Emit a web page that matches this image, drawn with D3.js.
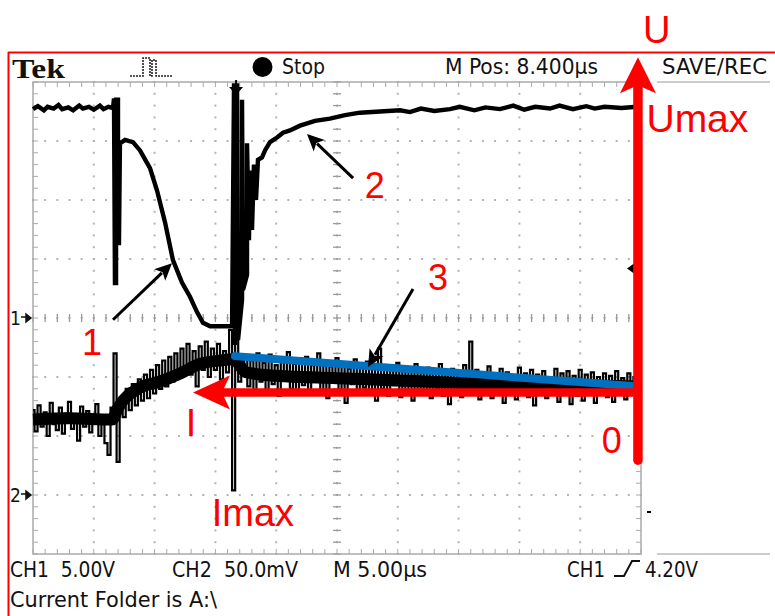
<!DOCTYPE html>
<html>
<head>
<meta charset="utf-8">
<script src="https://cdn.jsdelivr.net/npm/d3@7"></script>
<style>
  body { margin: 0; background: #fff; }
  svg { display: block; }
</style>
</head>
<body>
<svg id="scope" width="775" height="616"></svg>
<script>
// CH1 trace: time (µs from left edge of screen) and volts
const ch1Time = [0, 0.4, 0.9, 1.2, 1.7, 2.1, 2.4, 2.9, 3.3, 3.8, 4.1, 4.6, 5.0, 5.5, 5.8, 6.2, 6.58, 6.66, 6.74, 6.83, 6.83, 6.99, 6.99, 7.07,
  7.15, 7.57, 8.22, 8.80, 9.62, 10.2, 10.86, 11.51, 12.25, 12.91, 13.49, 13.98, 14.56, 16.2,
  16.37, 16.53, 16.61, 16.78, 16.86, 17.19, 17.19, 17.27, 17.6, 17.6, 17.76, 17.85, 18.01, 18.17, 18.34, 18.5,
  18.83, 19.08, 19.49, 20.07, 20.56, 21.13, 21.96, 23.19, 24.42, 25.66, 26.89, 28.54, 30.18, 31.0, 31.9, 33.0,
  34.29, 35.1, 36.3, 37.2, 38.4, 39.5, 40.4, 41.3, 42.52, 43.3, 44.4, 45.5, 46.2, 47.0, 48.4, 49.67];
const ch1Volts = [17.7, 17.95, 17.6, 17.9, 17.75, 18.05, 17.7, 17.85, 17.6, 18.0, 17.75, 17.9, 17.65, 18.0, 17.7, 17.9, 17.8, 18.6, 2.97, 2.97, 18.5, 18.5, 6.36, 6.36,
  14.8, 15.1, 14.9, 14.2, 12.7, 10.8, 8.1, 4.9, 3.0, 1.8, 0.5, -0.4, -0.7, -0.7,
  -0.68, 19.9, -2.29, 19.9, -1.86, 1.53, 18.5, 2.37, 3.64, 14.8, 6.6, 12.5, 7.46, 13.0, 10.0, 13.4,
  13.6, 14.2, 14.9, 15.3, 15.7, 15.9, 16.3, 16.7, 16.9, 17.2, 17.4, 17.5, 17.6, 17.45, 17.75, 17.55,
  17.7, 17.9, 17.6, 17.85, 17.7, 18.0, 17.65, 17.9, 17.75, 18.0, 17.7, 17.95, 17.75, 17.9, 17.8, 17.9];

// CH2 trace: samples every 0.25 µs, millivolts
const ch2Step = 0.25;
const ch2mV = [
  72, 54, 76, 58, 70, 50, 78, 60, 55, 74, 52, 69, 79, 56, 66, 46, 75, 58, 71, 53, 68, 77, 50, 62, 44, 34, 74,
  120, 28, 82, 66, 90, 72, 94, 76, 98, 80, 102, 82, 106, 86, 110, 90, 114, 92, 117, 96, 120, 100,
  124, 104, 128, 102, 122, 92, 126, 106, 130, 100, 124, 106, 128, 98, 122, 104,
  140, 4, 132, 96,
  104, 118, 92, 114, 88, 120, 96, 112, 86, 119, 94, 110, 84, 116, 97, 121, 90, 111, 87, 116,
  93, 117, 85, 110, 96, 120, 89, 113, 82, 109, 95, 116, 88, 111, 78, 107, 94, 115, 87, 109,
  91, 113, 85, 108, 80, 124, 90, 110, 84, 106, 93, 112, 83, 109, 89, 105, 80, 111, 88, 104,
  86, 108, 82, 105, 90, 111, 84, 103, 77, 107, 89, 104, 83, 110, 88, 130, 85, 106, 81, 103,
  87, 109, 82, 102, 86, 107, 78, 104, 85, 101, 81, 108, 89, 103, 83, 106, 76, 102, 86, 105,
  82, 100, 85, 107, 79, 103, 87, 105, 77, 101, 84, 106, 80, 102, 86, 104, 78, 100, 85, 103,
  83, 101, 79, 105, 86, 99, 81, 103, 85, 100, 88
];
// CH2 band centre (the solid part of the noisy trace)
const ch2TrendTime = [0, 3, 6.5, 7.0, 8.8, 10.4, 12.1, 13.7, 15.4, 16.5, 17.5, 20, 25, 30, 35, 40, 45, 49.75];
const ch2TrendmV = [64, 65, 64, 74, 91, 96, 103, 111, 114, 115, 104, 101, 99, 97, 95, 94, 93, 92];

// scope settings
const timePerDiv = 5;      // µs
const ch1PerDiv = 5;       // V
const ch2PerDiv = 50;      // mV
const trigTime = 16.7;     // µs
const trigLevel = 4.2;     // V

// readouts
const headerLabels = ["Stop", "M Pos: 8.400\u00b5s", "SAVE/REC"];
const footerLabels = ["CH1  5.00V", "CH2  50.0mV", "M 5.00\u00b5s", "CH1", "4.20V", "Current Folder is A:\\"];

// annotations (time µs, divisions)
const blueLine = [[16.61, 117.7], [49.34, 92.3]];   // on CH2 scale (mV)
const uAxis = [[49.75, -2.41], [49.75, 4.42]];      // divisions
const iAxis = [[49.75, 86.8], [13.16, 86.8]];       // on CH2 scale (mV)
const pointers = [
  { from: [6.58, -0.03], to: [11.43, 0.93] },
  { from: [26.32, 2.37], to: [22.53, 3.12] },
  { from: [31.25, 0.49], to: [27.55, -0.83] }
];
const redLabels = [
  { text: "U", t: 51.3, d: 4.66, size: 38, anchor: "middle" },
  { text: "Umax", t: 50.45, d: 3.15, size: 39, anchor: "start" },
  { text: "0", t: 47.6, d: -2.29, size: 36, anchor: "middle" },
  { text: "I", t: 13.0, d: -2.0, size: 38, anchor: "middle" },
  { text: "Imax", t: 14.7, d: -3.53, size: 38, anchor: "start" },
  { text: "1", t: 4.85, d: -0.63, size: 36, anchor: "middle" },
  { text: "2", t: 28.1, d: 2.03, size: 36, anchor: "middle" },
  { text: "3", t: 33.3, d: 0.47, size: 36, anchor: "middle" }
];

const svg = d3.select("#scope");
const gLeft = 33, gRight = 641, gTop = 82, gBottom = 554;

const x = d3.scaleLinear().domain([0, 10 * timePerDiv]).range([gLeft, gRight]);
const yd = d3.scaleLinear().domain([-4, 4]).range([gBottom, gTop]);
const y1 = d3.scaleLinear().domain([-4 * ch1PerDiv, 4 * ch1PerDiv]).range([gBottom, gTop]);
const y2 = d3.scaleLinear().domain([-1 * ch2PerDiv, 7 * ch2PerDiv]).range([gBottom, gTop]);

const tekFont = "'Liberation Sans Narrow','DejaVu Sans Condensed','Arial Narrow',sans-serif";
const redFont = "'Liberation Sans',Arial,sans-serif";

// red frame from the screenshot
svg.append("line").attr("x1", 8).attr("x2", 775).attr("y1", 52.5).attr("y2", 52.5)
  .attr("stroke", "#f00").attr("stroke-width", 2);
svg.append("line").attr("x1", 8.5).attr("x2", 8.5).attr("y1", 52).attr("y2", 616)
  .attr("stroke", "#f00").attr("stroke-width", 2);

// graticule
const grid = svg.append("g");
const xMajor = d3.range(1, 10).map(i => i * timePerDiv);
const yMajor = d3.range(-3, 4);
const xMinor = d3.range(0, 50.01, timePerDiv / 5);
const yMinor = d3.range(-4, 4.01, 0.2);

xMajor.forEach(t => {
  yMinor.forEach(d => {
    grid.append("rect").attr("x", x(t) - 1).attr("y", yd(d) - 1)
      .attr("width", 2).attr("height", 2).attr("fill", "#b4b4b4");
  });
});
yMajor.forEach(d => {
  xMinor.forEach(t => {
    grid.append("rect").attr("x", x(t) - 1).attr("y", yd(d) - 1)
      .attr("width", 2).attr("height", 2).attr("fill", "#b4b4b4");
  });
});
// centre axis ticks
xMinor.forEach(t => {
  grid.append("line").attr("x1", x(t)).attr("x2", x(t)).attr("y1", yd(0) - 4).attr("y2", yd(0) + 4)
    .attr("stroke", "#999").attr("stroke-width", 1.3);
});
yMinor.forEach(d => {
  grid.append("line").attr("x1", x(25) - 4).attr("x2", x(25) + 4).attr("y1", yd(d)).attr("y2", yd(d))
    .attr("stroke", "#999").attr("stroke-width", 1.3);
});
// frame and edge ticks
grid.append("rect").attr("x", gLeft).attr("y", gTop).attr("width", gRight - gLeft).attr("height", gBottom - gTop)
  .attr("fill", "none").attr("stroke", "#aaa").attr("stroke-width", 1.5);
xMinor.forEach(t => {
  grid.append("line").attr("x1", x(t)).attr("x2", x(t)).attr("y1", gTop).attr("y2", gTop + 5).attr("stroke", "#aaa");
  grid.append("line").attr("x1", x(t)).attr("x2", x(t)).attr("y1", gBottom - 5).attr("y2", gBottom).attr("stroke", "#aaa");
});
yMinor.forEach(d => {
  grid.append("line").attr("x1", gLeft).attr("x2", gLeft + 5).attr("y1", yd(d)).attr("y2", yd(d)).attr("stroke", "#aaa");
  grid.append("line").attr("x1", gRight - 5).attr("x2", gRight).attr("y1", yd(d)).attr("y2", yd(d)).attr("stroke", "#aaa");
});
// side panel separators
svg.append("line").attr("x1", 657).attr("x2", 770).attr("y1", gTop).attr("y2", gTop).attr("stroke", "#bbb").attr("stroke-width", 1.5);
svg.append("line").attr("x1", 657).attr("x2", 770).attr("y1", gBottom).attr("y2", gBottom).attr("stroke", "#bbb").attr("stroke-width", 1.5);

// traces: CH2 drawn as a solid band plus the raw stepped samples for the spikes
const ch2Core = d3.line()
  .x(i => x(ch2TrendTime[i]))
  .y(i => y2(ch2TrendmV[i]))
  .curve(d3.curveMonotoneX);
svg.append("path").attr("d", ch2Core(d3.range(ch2TrendTime.length)))
  .attr("fill", "none").attr("stroke", "#000").attr("stroke-width", 12);
const ch2Line = d3.line()
  .x((v, i) => x(i * ch2Step))
  .y(v => y2(v))
  .curve(d3.curveStep);
svg.append("path").attr("d", ch2Line(ch2mV))
  .attr("fill", "none").attr("stroke", "#000").attr("stroke-width", 2.2);

const ch1Line = d3.line()
  .x(i => x(ch1Time[i]))
  .y(i => y1(ch1Volts[i]));
svg.append("path").attr("d", ch1Line(d3.range(ch1Time.length)))
  .attr("fill", "none").attr("stroke", "#000").attr("stroke-width", 4.4).attr("stroke-linejoin", "miter");

// trigger position marker
const tx = x(trigTime);
svg.append("line").attr("x1", tx).attr("x2", tx).attr("y1", gTop - 2).attr("y2", gTop + 15)
  .attr("stroke", "#000").attr("stroke-width", 2);
svg.append("path").attr("d", `M${tx - 7},${gTop + 5}L${tx + 7},${gTop + 5}L${tx},${gTop + 13}Z`).attr("fill", "#000");
// trigger level marker
const ty = y1(trigLevel);
svg.append("path").attr("d", `M${gRight - 14},${ty}L${gRight - 7},${ty - 5}L${gRight - 7},${ty + 5}Z`).attr("fill", "#000");
svg.append("rect").attr("x", 647).attr("y", 511).attr("width", 4).attr("height", 2).attr("fill", "#000");

// channel ground markers
[[1, y1(0)], [2, y2(0)]].forEach(([n, gy]) => {
  svg.append("text").attr("x", 10).attr("y", gy + 7).text(n)
    .attr("font-family", tekFont).attr("font-size", 19).attr("fill", "#111");
  svg.append("path").attr("d", `M21,${gy - 1}H26M26,${gy - 4}L31,${gy}L26,${gy + 4}Z`)
    .attr("stroke", "#111").attr("stroke-width", 1.5).attr("fill", "#111");
});

// header
svg.append("text").attr("x", 12).attr("y", 78).text("Tek")
  .attr("font-family", "'Liberation Serif','DejaVu Serif',serif").attr("font-weight", "bold")
  .attr("font-size", 27).attr("textLength", 53).attr("lengthAdjust", "spacingAndGlyphs").attr("fill", "#111");
svg.append("path")
  .attr("d", "M130,76H143V58H150V76H152V60H156V76H173")
  .attr("fill", "none").attr("stroke", "#222").attr("stroke-width", 1.6).attr("stroke-dasharray", "2,1");
svg.append("circle").attr("cx", 262.5).attr("cy", 67).attr("r", 10).attr("fill", "#000");

const header = [
  { text: headerLabels[0], x: 282, w: 43 },
  { text: headerLabels[1], x: 445, w: 153 },
  { text: headerLabels[2], x: 662, w: 105 }
];
header.forEach(h => {
  svg.append("text").attr("x", h.x).attr("y", 74).text(h.text)
    .attr("font-family", tekFont).attr("font-size", 21)
    .attr("textLength", h.w).attr("lengthAdjust", "spacingAndGlyphs").attr("fill", "#111");
});

// footer
const footer = [
  { text: footerLabels[0], x: 10, y: 577, w: 105 },
  { text: footerLabels[1], x: 172, y: 577, w: 126 },
  { text: footerLabels[2], x: 333, y: 577, w: 94 },
  { text: footerLabels[3], x: 567, y: 577, w: 38 },
  { text: footerLabels[4], x: 645, y: 577, w: 53 },
  { text: footerLabels[5], x: 10, y: 607, w: 207 }
];
footer.forEach(f => {
  svg.append("text").attr("x", f.x).attr("y", f.y).text(f.text)
    .style("white-space", "pre")
    .attr("font-family", tekFont).attr("font-size", 22)
    .attr("textLength", f.w).attr("lengthAdjust", "spacingAndGlyphs").attr("fill", "#111");
});
// rising slope symbol
svg.append("path").attr("d", "M614,576H624L632,561H640")
  .attr("fill", "none").attr("stroke", "#111").attr("stroke-width", 2);

// blue line
svg.append("line")
  .attr("x1", x(blueLine[0][0])).attr("y1", y2(blueLine[0][1]))
  .attr("x2", x(blueLine[1][0])).attr("y2", y2(blueLine[1][1]))
  .attr("stroke", "#0070c0").attr("stroke-width", 8).attr("stroke-linecap", "round");

// red axis arrows
function redArrow(x1, y1p, x2, y2p, w, head, half) {
  const ang = Math.atan2(y2p - y1p, x2 - x1);
  const ux = Math.cos(ang), uy = Math.sin(ang);
  const bx = x2 - ux * head, by = y2p - uy * head;
  const nx = x2 - ux * head * 0.78, ny = y2p - uy * head * 0.78;
  svg.append("line").attr("x1", x1).attr("y1", y1p).attr("x2", nx).attr("y2", ny)
    .attr("stroke", "#f00").attr("stroke-width", w).attr("stroke-linecap", "round");
  svg.append("path")
    .attr("d", `M${x2},${y2p}L${bx - uy * half},${by + ux * half}L${nx},${ny}L${bx + uy * half},${by - ux * half}Z`)
    .attr("fill", "#f00");
}
redArrow(x(uAxis[0][0]), yd(uAxis[0][1]), x(uAxis[1][0]), yd(uAxis[1][1]), 9.5, 36, 18);
redArrow(x(iAxis[0][0]), y2(iAxis[0][1]), x(iAxis[1][0]), y2(iAxis[1][1]), 8.5, 37, 17);

// black pointers
pointers.forEach(p => {
  const x1 = x(p.from[0]), yy1 = yd(p.from[1]), x2 = x(p.to[0]), yy2 = yd(p.to[1]);
  const ang = Math.atan2(yy2 - yy1, x2 - x1);
  const ux = Math.cos(ang), uy = Math.sin(ang);
  const head = 17, half = 8;
  const bx = x2 - ux * head, by = yy2 - uy * head;
  svg.append("line").attr("x1", x1).attr("y1", yy1).attr("x2", bx + ux * 3).attr("y2", by + uy * 3)
    .attr("stroke", "#000").attr("stroke-width", 3);
  svg.append("path")
    .attr("d", `M${x2},${yy2}L${bx - uy * half},${by + ux * half}L${bx + ux * 4},${by + uy * 4}L${bx + uy * half},${by - ux * half}Z`)
    .attr("fill", "#000");
});

// red labels
svg.selectAll("text.red").data(redLabels).join("text")
  .attr("class", "red")
  .attr("x", d => x(d.t)).attr("y", d => yd(d.d))
  .attr("text-anchor", d => d.anchor)
  .attr("font-family", redFont).attr("font-size", d => d.size)
  .attr("fill", "#f00")
  .text(d => d.text);
</script>
</body>
</html>
